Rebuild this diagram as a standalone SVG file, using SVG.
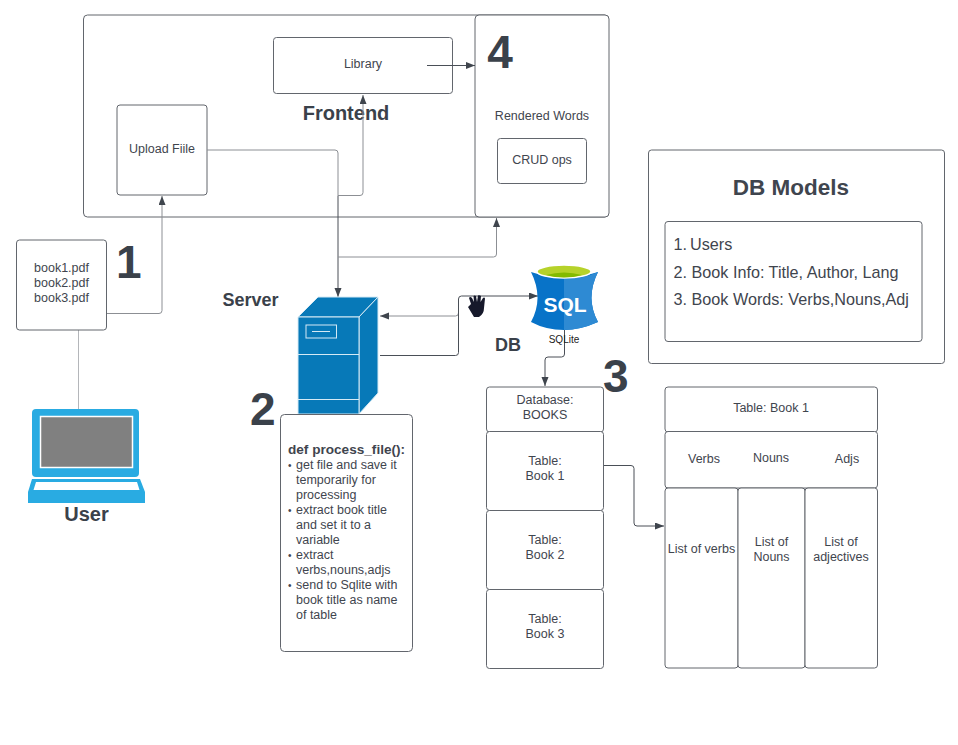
<svg xmlns="http://www.w3.org/2000/svg" width="958" height="745" viewBox="0 0 958 745">
<style>
text{font-family:"Liberation Sans",Arial,sans-serif;fill:#3f454e;font-size:12.5px}
.m{text-anchor:middle}
.b{font-weight:700}
.n{font-size:46px;font-weight:700;fill:#3a414a}
.h{font-size:20px;font-weight:700;fill:#3a414a}
.s{font-size:18px;font-weight:700;fill:#3a414a}
.d{font-size:10px}
.l{font-size:16.200px}
.box{fill:#fff;stroke:#62666d;stroke-width:1}
.lite{fill:none;stroke:#b4b6ba;stroke-width:1}
.c{fill:none;stroke:#4a4f57;stroke-width:1}
.cl{fill:none;stroke:#8c8f94;stroke-width:1}
</style>
<defs>
<marker id="a" markerWidth="10" markerHeight="8" refX="9" refY="3.500" orient="auto" markerUnits="userSpaceOnUse"><path d="M0 0L9 3.500L0 7Z" fill="#3f454d"/></marker>
</defs>
<rect width="958" height="745" fill="#fff"/>
<g id="frontend"><rect class="box" x="83.500" y="15" width="525" height="202" rx="4"/><text class="m h" x="346" y="120">Frontend</text></g>
<g id="rendered"><rect class="box" x="475" y="15" width="134" height="202" rx="4"/><text class="n m" x="500" y="68">4</text><text class="m" x="542" y="120">Rendered Words</text></g>
<g id="crud"><rect class="box" x="497.500" y="138.500" width="89" height="45" rx="3"/><text class="m" x="542" y="164">CRUD ops</text></g>
<g id="library"><rect class="box" x="273.500" y="37.500" width="179" height="56" rx="3"/><text class="m" x="363" y="67.500">Library</text></g>
<g id="upload"><rect class="box" x="117" y="105" width="90" height="90" rx="3"/><text class="m" x="162" y="152.500">Upload Fiile</text></g>
<g id="connectors">
<path class="lite" d="M78.500 330V409"/>
<path class="cl" d="M106 313.500H159Q162 313.500 162 310.500V196" marker-end="url(#a)"/>
<path class="cl" d="M207 150H335Q338 150 338 153V196"/>
<path class="c" d="M338 196V297" marker-end="url(#a)"/>
<path class="cl" d="M338 195.500H360Q363 195.500 363 192.500V95" marker-end="url(#a)"/>
<path class="cl" d="M338 257H493.500Q496.500 257 496.500 254V218" marker-end="url(#a)"/>
<path class="c" d="M427 65.500H475" marker-end="url(#a)"/>
<path class="cl" d="M458.500 313Q458.500 316 455.500 316H380" marker-end="url(#a)"/>
<path class="c" d="M380 355.500H455.500Q458.500 355.500 458.500 352.500V299Q458.500 296 461.500 296H538" marker-end="url(#a)"/>
<path class="c" d="M564.500 330V354Q564.500 357 561.500 357H548Q545 357 545 360V386" marker-end="url(#a)"/>
<path class="c" d="M604 465.500H631Q634 465.500 634 468.500V523Q634 526 637 526H664" marker-end="url(#a)"/>
</g>
<g id="files"><rect class="box" x="16.500" y="240" width="90" height="90" rx="3"/><text class="m" x="61.500" y="271.500">book1.pdf</text><text class="m" x="61.500" y="286.500">book2.pdf</text><text class="m" x="61.500" y="301.500">book3.pdf</text><text class="n" x="116" y="278">1</text></g>
<g id="laptop">
<rect x="32" y="409" width="107" height="68" rx="4" fill="#29abe2"/>
<rect x="40.500" y="416.500" width="92" height="51" fill="#808080" stroke="#fff" stroke-width="1.500"/>
<path d="M32 479H140L145 492V503H28V492Z" fill="#29abe2"/>
<path d="M36 482H137L139.500 490H33.500Z" fill="#fff"/>
<text class="m h" x="86.500" y="521">User</text>
</g>
<g id="server">
<path d="M298 317L318 297H378L359 317Z" fill="#0779b8" stroke="#d5eaf5"/>
<path d="M359 317L378 297V393L359 414Z" fill="#0779b8" stroke="#d5eaf5"/>
<path d="M298 317H359V414H298Z" fill="#0779b8" stroke="#d5eaf5"/>
<path d="M298 354.500H359M298 399.500H359" stroke="#d5eaf5" fill="none"/>
<rect x="306" y="325" width="30.500" height="13" fill="none" stroke="#d5eaf5"/>
<path d="M312 331.500H330" stroke="#d5eaf5"/>
<text class="s" x="222.500" y="306">Server</text>
<text class="n" x="250" y="425">2</text>
</g>
<g id="process">
<rect class="box" x="280.500" y="414.500" width="132" height="237" rx="4"/>
<text class="b" x="288" y="454" style="font-size:13.600px">def process_file():</text>
<text class="d" x="288" y="469">•</text><text x="296" y="469">get file and save it</text>
<text x="296" y="484">temporarily for</text>
<text x="296" y="499">processing</text>
<text class="d" x="288" y="514">•</text><text x="296" y="514">extract book title</text>
<text x="296" y="529">and set it to a</text>
<text x="296" y="544">variable</text>
<text class="d" x="288" y="559">•</text><text x="296" y="559">extract</text>
<text x="296" y="574">verbs,nouns,adjs</text>
<text class="d" x="288" y="589">•</text><text x="296" y="589">send to Sqlite with</text>
<text x="296" y="604">book title as name</text>
<text x="296" y="619">of table</text>
</g>
<g id="hand"><path d="M468 307L471 304L469 298Q470 296 472 298L474 302L473.500 296Q474.500 295 476 296L477 302L478 295.500Q479.500 295 481 296L480.500 302L483 298Q484.500 297 485 298.500L484 308Q484 314 479 317H474Z" fill="#16192b"/></g>
<g id="sqlite">
<path d="M531 272Q564 283 598 272Q585 298 598 322Q580 330 564 330Q546 330 531 322Q544 298 531 272Z" fill="#0873c8"/>
<path d="M564 279Q583 279 598 272Q585 298 598 322Q580 330 564 330Z" fill="#2e8ad3"/>
<ellipse cx="564" cy="271.500" rx="27" ry="6.500" fill="#b6d22a" stroke="#fff" stroke-width="1.500"/>
<path d="M546 275Q564 270 582 275Q564 280 546 275Z" fill="#83ba00"/>
<text class="m b" x="565" y="312" style="font-size:21px;fill:#fff">SQL</text>
<text class="m" x="564" y="343" style="font-size:10px;fill:#222">SQLite</text>
<text class="s" x="495" y="351">DB</text>
</g>
<g id="db-books"><rect class="box" x="486.500" y="387" width="117" height="45" rx="3"/><text class="m" x="545" y="404">Database:</text><text class="m" x="545" y="419">BOOKS</text><text class="n" x="603" y="392">3</text></g>
<g id="t1"><rect class="box" x="486.500" y="431.500" width="117" height="79" rx="3"/><text class="m" x="545" y="465">Table:</text><text class="m" x="545" y="480">Book 1</text></g>
<g id="t2"><rect class="box" x="486.500" y="510.500" width="117" height="79" rx="3"/><text class="m" x="545" y="544">Table:</text><text class="m" x="545" y="559">Book 2</text></g>
<g id="t3"><rect class="box" x="486.500" y="589.500" width="117" height="79" rx="3"/><text class="m" x="545" y="623">Table:</text><text class="m" x="545" y="638">Book 3</text></g>
<g id="table-title"><rect class="box" x="665" y="387" width="212.500" height="45" rx="3"/><text class="m" x="771" y="412">Table: Book 1</text></g>
<g id="table-head"><rect class="box" x="665" y="431.500" width="212.500" height="56.500" rx="3"/><text class="m" x="704" y="463">Verbs</text><text class="m" x="771" y="462">Nouns</text><text class="m" x="847" y="463">Adjs</text></g>
<g id="col-verbs"><rect class="box" x="665" y="488" width="73" height="180" rx="3"/><text class="m" x="701.500" y="553">List of verbs</text></g>
<g id="col-nouns"><rect class="box" x="738" y="488" width="67" height="180" rx="3"/><text class="m" x="771.500" y="546">List of</text><text class="m" x="771.500" y="561">Nouns</text></g>
<g id="col-adjs"><rect class="box" x="805" y="488" width="72.500" height="180" rx="3"/><text class="m" x="841" y="546">List of</text><text class="m" x="841" y="561">adjectives</text></g>
<g id="db-models"><rect class="box" x="648.500" y="150" width="296" height="213.500" rx="3"/><text class="m b" x="791" y="195" style="font-size:22.500px">DB Models</text></g>
<g id="models-list"><rect class="box" x="665" y="221.500" width="257" height="120" rx="3"/>
<text class="l" x="673.500" y="249.500">1.</text><text class="l" x="690" y="249.500">Users</text>
<text class="l" x="673.500" y="277.500">2. Book Info: Title, Author, Lang</text>
<text class="l" x="673.500" y="305">3. Book Words: Verbs,Nouns,Adj</text></g>
</svg>
